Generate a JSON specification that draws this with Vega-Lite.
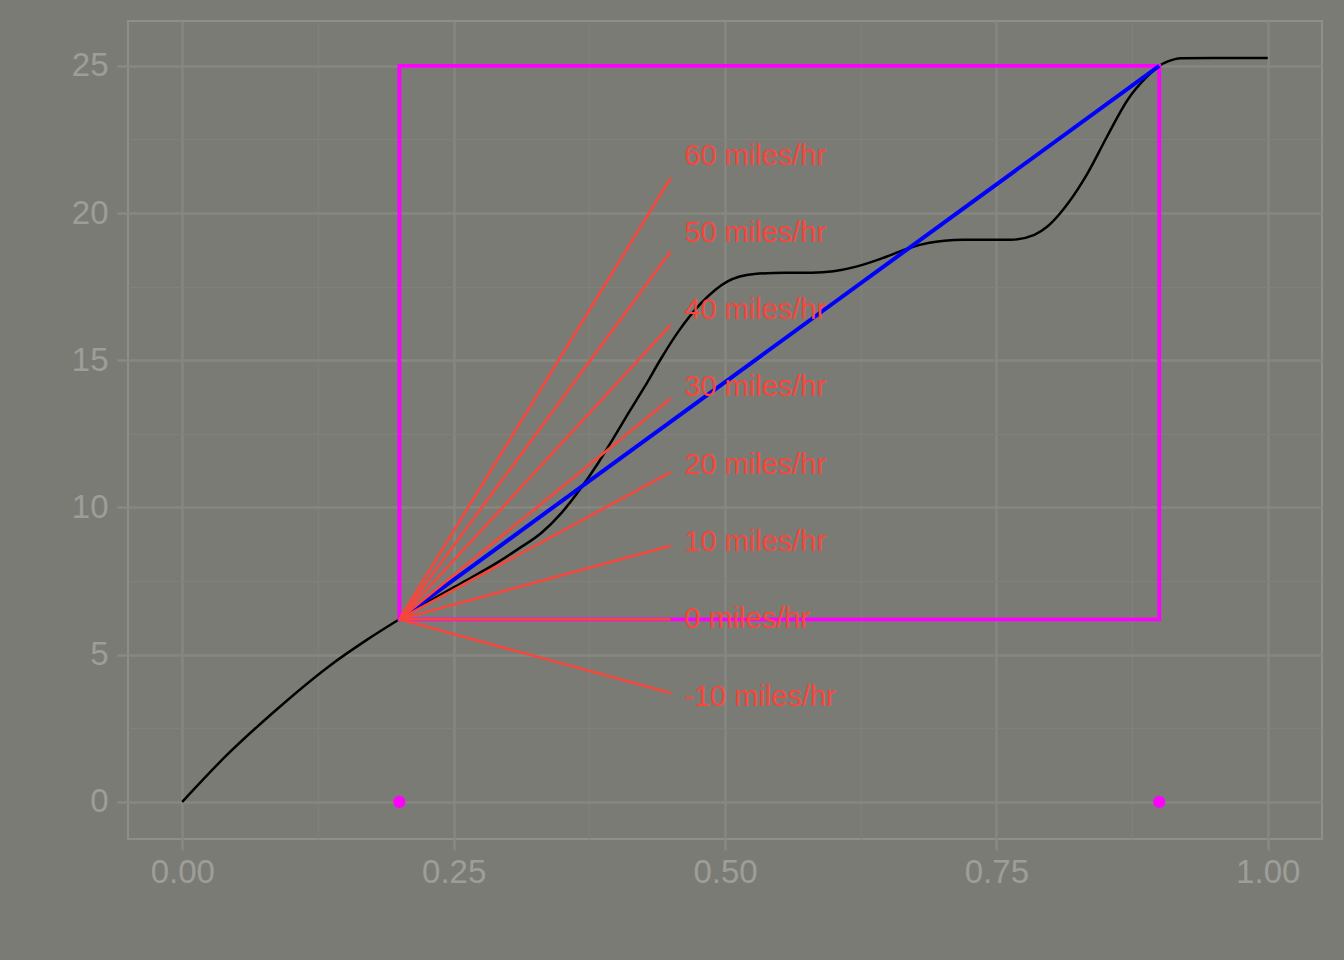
{
  "$schema": "https://vega.github.io/schema/vega-lite/v6.json",
  "width": 1194,
  "height": 818,
  "autosize": {"type": "none"},
  "padding": {"left": 128, "top": 21, "right": 22, "bottom": 121},
  "background": "#7B7B76",
  "config": {
    "view": {"stroke": "#8F8F8A", "strokeWidth": 2, "fill": "#7B7B76"},
    "font": "Liberation Sans",
    "axis": {
      "domain": false,
      "title": null,
      "labelFont": "Liberation Sans",
      "labelFontSize": 33,
      "labelColor": "#9E9E99",
      "tickColor": "#8A8A85",
      "tickWidth": 2.4,
      "tickSize": 11
    }
  },
  "datasets": {
    "curve": [
      {"t": 0.0, "dist": 0.0},
      {"t": 0.04, "dist": 1.55},
      {"t": 0.083, "dist": 3.01},
      {"t": 0.135, "dist": 4.6},
      {"t": 0.17, "dist": 5.5},
      {"t": 0.2, "dist": 6.2},
      {"t": 0.227, "dist": 6.8},
      {"t": 0.258, "dist": 7.45},
      {"t": 0.289, "dist": 8.1},
      {"t": 0.31, "dist": 8.6},
      {"t": 0.331, "dist": 9.14},
      {"t": 0.349, "dist": 9.8},
      {"t": 0.367, "dist": 10.64},
      {"t": 0.383, "dist": 11.5},
      {"t": 0.396, "dist": 12.28},
      {"t": 0.411, "dist": 13.2},
      {"t": 0.426, "dist": 14.1},
      {"t": 0.441, "dist": 15.05},
      {"t": 0.456, "dist": 15.92},
      {"t": 0.478, "dist": 16.94},
      {"t": 0.502, "dist": 17.67},
      {"t": 0.527, "dist": 17.93},
      {"t": 0.555, "dist": 17.97},
      {"t": 0.58, "dist": 17.97},
      {"t": 0.6, "dist": 18.02},
      {"t": 0.62, "dist": 18.17},
      {"t": 0.64, "dist": 18.4},
      {"t": 0.656, "dist": 18.62},
      {"t": 0.672, "dist": 18.84},
      {"t": 0.687, "dist": 18.98},
      {"t": 0.702, "dist": 19.06},
      {"t": 0.72, "dist": 19.09},
      {"t": 0.763, "dist": 19.09},
      {"t": 0.785, "dist": 19.26},
      {"t": 0.797, "dist": 19.54},
      {"t": 0.809, "dist": 20.0},
      {"t": 0.816, "dist": 20.33},
      {"t": 0.834, "dist": 21.35},
      {"t": 0.852, "dist": 22.6},
      {"t": 0.871, "dist": 23.85},
      {"t": 0.889, "dist": 24.64},
      {"t": 0.9, "dist": 25.0},
      {"t": 0.908, "dist": 25.15},
      {"t": 0.92, "dist": 25.26},
      {"t": 0.95, "dist": 25.27},
      {"t": 1.0, "dist": 25.27}
    ],
    "box": [{"t": 0.2, "t2": 0.9, "dist": 6.2, "dist2": 25.0}],
    "chord": [{"t": 0.2, "t2": 0.9, "dist": 6.2, "dist2": 25.0}],
    "ends": [{"t": 0.2, "dist": 0}, {"t": 0.9, "dist": 0}],
    "speeds": [
      {"speed": -10, "label": "-10 miles/hr", "t": 0.2, "dist": 6.2, "t_end": 0.45, "dist_end": 3.7, "t_lab": 0.4625, "dist_lab": 3.575},
      {"speed": 0, "label": "0 miles/hr", "t": 0.2, "dist": 6.2, "t_end": 0.45, "dist_end": 6.2, "t_lab": 0.4625, "dist_lab": 6.2},
      {"speed": 10, "label": "10 miles/hr", "t": 0.2, "dist": 6.2, "t_end": 0.45, "dist_end": 8.7, "t_lab": 0.4625, "dist_lab": 8.825},
      {"speed": 20, "label": "20 miles/hr", "t": 0.2, "dist": 6.2, "t_end": 0.45, "dist_end": 11.2, "t_lab": 0.4625, "dist_lab": 11.45},
      {"speed": 30, "label": "30 miles/hr", "t": 0.2, "dist": 6.2, "t_end": 0.45, "dist_end": 13.7, "t_lab": 0.4625, "dist_lab": 14.075},
      {"speed": 40, "label": "40 miles/hr", "t": 0.2, "dist": 6.2, "t_end": 0.45, "dist_end": 16.2, "t_lab": 0.4625, "dist_lab": 16.7},
      {"speed": 50, "label": "50 miles/hr", "t": 0.2, "dist": 6.2, "t_end": 0.45, "dist_end": 18.7, "t_lab": 0.4625, "dist_lab": 19.325},
      {"speed": 60, "label": "60 miles/hr", "t": 0.2, "dist": 6.2, "t_end": 0.45, "dist_end": 21.2, "t_lab": 0.4625, "dist_lab": 21.95}
    ]
  },
  "layer": [
    {
      "data": {"name": "curve"},
      "mark": {"type": "line", "color": "black", "strokeWidth": 2.5, "interpolate": "monotone"},
      "encoding": {
        "x": {
          "field": "t",
          "type": "quantitative",
          "scale": {"domain": [-0.05, 1.05], "nice": false, "zero": false},
          "axis": {
            "values": [0, 0.125, 0.25, 0.375, 0.5, 0.625, 0.75, 0.875, 1],
            "labelExpr": "(datum.value * 4) % 1 != 0 ? '' : format(datum.value, '.2f')",
            "labelPadding": 6,
            "grid": true,
            "gridColor": {"condition": {"test": "(datum.value * 4) % 1 != 0", "value": "#81817C"}, "value": "#878782"},
            "gridWidth": {"condition": {"test": "(datum.value * 4) % 1 != 0", "value": 1.2}, "value": 2.4},
            "tickOpacity": {"condition": {"test": "(datum.value * 4) % 1 != 0", "value": 0}, "value": 1}
          }
        },
        "y": {
          "field": "dist",
          "type": "quantitative",
          "scale": {"domain": [-1.263, 26.523], "nice": false, "zero": false},
          "axis": {
            "values": [0, 2.5, 5, 7.5, 10, 12.5, 15, 17.5, 20, 22.5, 25],
            "labelExpr": "datum.value % 5 != 0 ? '' : format(datum.value, 'd')",
            "labelPadding": 9,
            "grid": true,
            "gridColor": {"condition": {"test": "datum.value % 5 != 0", "value": "#81817C"}, "value": "#878782"},
            "gridWidth": {"condition": {"test": "datum.value % 5 != 0", "value": 1.2}, "value": 2.4},
            "tickOpacity": {"condition": {"test": "datum.value % 5 != 0", "value": 0}, "value": 1}
          }
        }
      }
    },
    {
      "data": {"name": "box"},
      "mark": {"type": "rect", "fill": "transparent", "stroke": "#FF00FF", "strokeWidth": 3.8},
      "encoding": {
        "x": {"field": "t", "type": "quantitative"},
        "x2": {"field": "t2"},
        "y": {"field": "dist", "type": "quantitative"},
        "y2": {"field": "dist2"}
      }
    },
    {
      "data": {"name": "chord"},
      "mark": {"type": "rule", "color": "#0000FF", "strokeWidth": 4},
      "encoding": {
        "x": {"field": "t", "type": "quantitative"},
        "x2": {"field": "t2"},
        "y": {"field": "dist", "type": "quantitative"},
        "y2": {"field": "dist2"}
      }
    },
    {
      "data": {"name": "speeds"},
      "mark": {"type": "rule", "color": "#F5473B", "strokeWidth": 2.6},
      "encoding": {
        "x": {"field": "t", "type": "quantitative"},
        "x2": {"field": "t_end"},
        "y": {"field": "dist", "type": "quantitative"},
        "y2": {"field": "dist_end"}
      }
    },
    {
      "data": {"name": "ends"},
      "mark": {"type": "circle", "color": "#FF00FF", "opacity": 1, "size": 150},
      "encoding": {
        "x": {"field": "t", "type": "quantitative"},
        "y": {"field": "dist", "type": "quantitative"}
      }
    },
    {
      "data": {"name": "speeds"},
      "mark": {"type": "text", "color": "#F5473B", "fontSize": 29, "font": "Liberation Sans", "align": "left", "baseline": "middle"},
      "encoding": {
        "x": {"field": "t_lab", "type": "quantitative"},
        "y": {"field": "dist_lab", "type": "quantitative"},
        "text": {"field": "label"}
      }
    }
  ]
}
